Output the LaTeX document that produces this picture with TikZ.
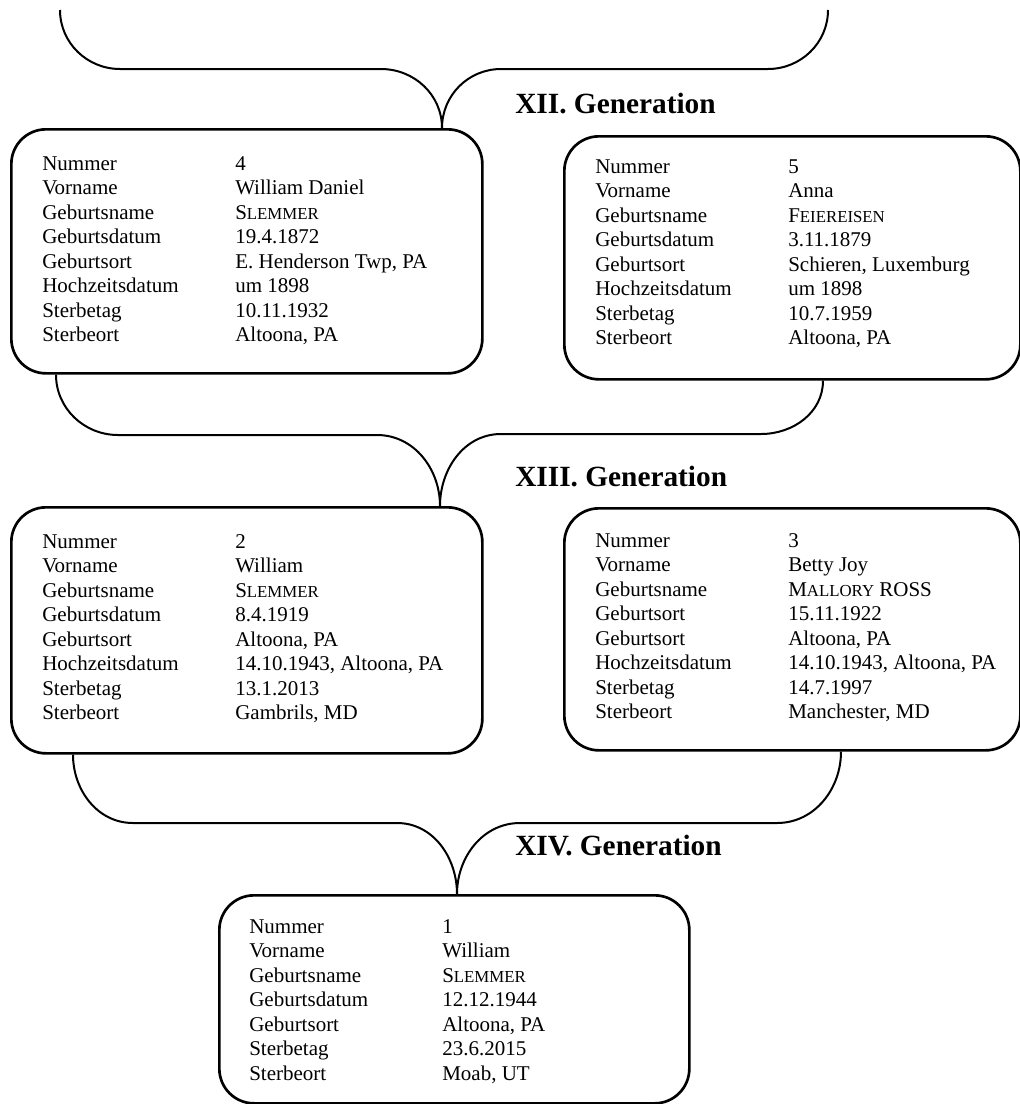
\documentclass[tikz,border=0pt]{standalone}
\usepackage{fontspec}
\setmainfont{Liberation Serif}
\newcommand\fsc[1]{{\fontsize{12.6pt}{18.4pt}\selectfont #1}}
\newcommand\pinfo[1]{\fontsize{15.75pt}{18.4pt}\selectfont\begin{tabular}[t]{@{}p{144.75pt}@{}l@{}}#1\end{tabular}}
\begin{document}
\begin{tikzpicture}[x=0.75pt,y=-0.75pt,
  pbox/.style={draw, line width=2pt, rounded corners=26pt, inner sep=0pt, anchor=north west},
  conn/.style={line width=1.5pt},
  ptext/.style={anchor=base west, inner sep=0pt},
  gen/.style={anchor=base west, inner sep=0pt, font=\fontsize{22pt}{26pt}\selectfont\bfseries}]
\useasboundingbox (0,0) rectangle (1020,1104);

% boxes
\node[pbox, minimum width=353.25pt, minimum height=183pt] (b4) at (10,128) {};
\node[pbox, minimum width=342pt, minimum height=182.25pt] (b5) at (563,135) {};
\node[pbox, minimum width=353.25pt, minimum height=184.5pt] (b2) at (10,506) {};
\node[pbox, minimum width=342pt, minimum height=181.5pt] (b3) at (563,507) {};
\node[pbox, minimum width=352.5pt, minimum height=156pt] (b1) at (218,894) {};

% headings
\node[gen] (g12) at (515,113) {XII. Generation};
\node[gen] (g13) at (515,486) {XIII. Generation};
\node[gen] (g14) at (515,855) {XIV. Generation};

% texts
\node[ptext] (t4) at (42,170) {\pinfo{Nummer & 4\\ Vorname & William Daniel\\ Geburtsname & S\fsc{LEMMER}\\ Geburtsdatum & 19.4.1872\\ Geburtsort & E. Henderson Twp, PA\\ Hochzeitsdatum & um 1898\\ Sterbetag & 10.11.1932\\ Sterbeort & Altoona, PA}};
\node[ptext] (t5) at (595,173) {\pinfo{Nummer & 5\\ Vorname & Anna\\ Geburtsname & F\fsc{EIEREISEN}\\ Geburtsdatum & 3.11.1879\\ Geburtsort & Schieren, Luxemburg\\ Hochzeitsdatum & um 1898\\ Sterbetag & 10.7.1959\\ Sterbeort & Altoona, PA}};
\node[ptext] (t2) at (42,548) {\pinfo{Nummer & 2\\ Vorname & William\\ Geburtsname & S\fsc{LEMMER}\\ Geburtsdatum & 8.4.1919\\ Geburtsort & Altoona, PA\\ Hochzeitsdatum & 14.10.1943, Altoona, PA\\ Sterbetag & 13.1.2013\\ Sterbeort & Gambrils, MD}};
\node[ptext] (t3) at (595,547) {\pinfo{Nummer & 3\\ Vorname & Betty Joy\\ Geburtsname & M\fsc{ALLORY} ROSS\\ Geburtsort & 15.11.1922\\ Geburtsort & Altoona, PA\\ Hochzeitsdatum & 14.10.1943, Altoona, PA\\ Sterbetag & 14.7.1997\\ Sterbeort & Manchester, MD}};
\node[ptext] (t1) at (249,933) {\pinfo{Nummer & 1\\ Vorname & William\\ Geburtsname & S\fsc{LEMMER}\\ Geburtsdatum & 12.12.1944\\ Geburtsort & Altoona, PA\\ Sterbetag & 23.6.2015\\ Sterbeort & Moab, UT}};

% helper coordinates
\coordinate (c11a) at (60,10);
\coordinate (c11b) at (828,10);
\coordinate (x442) at (442,0);
\coordinate (x56) at (56,0);
\coordinate (x823) at (823,0);
\coordinate (x440) at (440,0);
\coordinate (x73) at (73,0);
\coordinate (x841) at (841,0);
\coordinate (x457) at (457,0);

% connectors XI -> XII
\draw[conn] (c11a) to[out=-90,in=180] (120,69) -- (381,69) to[out=0,in=90] (b4.north -| x442);
\draw[conn] (c11b) to[out=-90,in=0] (768,69) -- (501,69) to[out=180,in=90] (b4.north -| x442);
% XII -> XIII
\draw[conn] (b4.south -| x56) to[out=-90,in=180] (118,435) -- (377,435) to[out=0,in=90] (b2.north -| x440);
\draw[conn] (b5.south -| x823) to[out=-90,in=0] (761,434) -- (501,434) to[out=180,in=90] (b2.north -| x440);
% XIII -> XIV
\draw[conn] (b2.south -| x73) to[out=-90,in=180] (133,823) -- (397,823) to[out=0,in=90] (b1.north -| x457);
\draw[conn] (b3.south -| x841) to[out=-90,in=0] (777,823) -- (520,823) to[out=180,in=90] (b1.north -| x457);
\end{tikzpicture}
\end{document}
